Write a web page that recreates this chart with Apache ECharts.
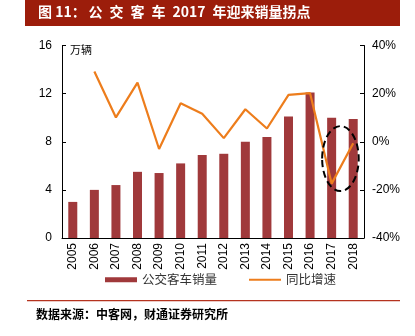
<!DOCTYPE html>
<html><head><meta charset="utf-8">
<script src="https://cdn.jsdelivr.net/npm/echarts@6/dist/echarts.min.js"></script>
<style>html,body{margin:0;padding:0;background:#fff}#c{width:415px;height:336px}</style>
</head><body><div id="c"></div>
<script>
const categories = ['2005','2006','2007','2008','2009','2010','2011','2012','2013','2014','2015','2016','2017','2018'];
const sales = [3.0, 4.0, 4.4, 5.5, 5.4, 6.2, 6.9, 7.0, 8.0, 8.4, 10.1, 12.1, 10.0, 9.9];
const growth = [null, 29.2, 10.1, 24.6, -3.0, 16.0, 11.6, 1.5, 13.5, 5.5, 19.5, 20.2, -17.4, -0.6];
const leftTicks = [0, 4, 8, 12, 16];
const rightTicks = [-40, -20, 0, 20, 40];

const chart = echarts.init(document.getElementById('c'), null, {renderer: 'canvas'});
const font = 'Liberation Sans, Arial, sans-serif';
const cjk = 'Noto Sans CJK SC, sans-serif';
const titleText = '图 11：\u2009公\u2002交\u2002客\u2002车\u20022017\u2002年迎来销量拐点';
const staticGraphics = [
  {type: 'rect', left: 25, top: 0, shape: {width: 375, height: 26}, style: {fill: '#9c1d0b'}},
  {type: 'text', left: 38, top: 5, style: {text: titleText, fill: '#fff', font: 'bold 14px ' + cjk}},
  {type: 'text', left: 70, top: 44, style: {text: '万辆', fill: '#000', font: '11px ' + cjk}},
  {type: 'rect', left: 27, top: 300, shape: {width: 373, height: 1.2}, style: {fill: '#b5331f'}},
  {type: 'text', left: 36, top: 308, style: {text: '数据来源：中客网，财通证券研究所', fill: '#000', font: 'bold 12px ' + cjk}}
];
chart.setOption({
  animation: false,
  grid: {left: 62, right: 51, top: 45.5, bottom: 98},
  legend: {
    bottom: 45, left: 100, itemGap: 31, itemWidth: 32, itemHeight: 5,
    textStyle: {fontFamily: cjk, fontSize: 12.5, color: '#333'},
    data: [
      {name: '公交客车销量', icon: 'rect'},
      {name: '同比增速', itemStyle: {opacity: 0}}
    ]
  },
  xAxis: {
    type: 'category', data: categories,
    axisLine: {lineStyle: {color: '#000', width: 1}},
    axisTick: {inside: true, length: 4, lineStyle: {color: '#000'}},
    axisLabel: {rotate: 90, fontFamily: font, fontSize: 12, color: '#000', margin: 5}
  },
  yAxis: [
    {
      type: 'value', min: leftTicks[0], max: leftTicks[leftTicks.length-1], interval: 4,
      axisLine: {show: true, lineStyle: {color: '#000'}},
      axisTick: {show: true, inside: true, length: 4, lineStyle: {color: '#000'}},
      splitLine: {show: false},
      axisLabel: {fontFamily: font, fontSize: 12, color: '#000', margin: 10}
    },
    {
      type: 'value', min: rightTicks[0], max: rightTicks[rightTicks.length-1], interval: 20,
      axisLine: {show: true, lineStyle: {color: '#000'}},
      axisTick: {show: true, inside: true, length: 4, lineStyle: {color: '#000'}},
      splitLine: {show: false},
      axisLabel: {fontFamily: font, fontSize: 12, color: '#000', margin: 8, formatter: '{value}%'}
    }
  ],
  series: [
    {
      name: '公交客车销量', type: 'bar', data: sales, barWidth: 9,
      itemStyle: {color: '#a0393b'}
    },
    {
      name: '同比增速', type: 'line', yAxisIndex: 1, data: growth,
      symbol: 'none', lineStyle: {color: '#ed7d1c', width: 2.2}, itemStyle: {color: '#ed7d1c'}
    }
  ],
  graphic: staticGraphics
});

// dashed ellipse highlighting the 2017-2018 turning point
const xa = chart.convertToPixel({xAxisIndex: 0}, '2017');
const xb = chart.convertToPixel({xAxisIndex: 0}, '2018');
const yTop = chart.convertToPixel({yAxisIndex: 1}, 6.5);
const yBot = chart.convertToPixel({yAxisIndex: 1}, -20.5);
chart.setOption({graphic: staticGraphics.concat([
  {type: 'ellipse', z: 10,
   shape: {cx: (xa + xb) / 2 - 2, cy: (yTop + yBot) / 2, rx: (xb - xa) / 2 + 7.5, ry: (yBot - yTop) / 2},
   style: {fill: 'none', stroke: '#000', lineWidth: 2, lineDash: [7, 4]}}
])}, {replaceMerge: ['graphic']});
</script></body></html>
